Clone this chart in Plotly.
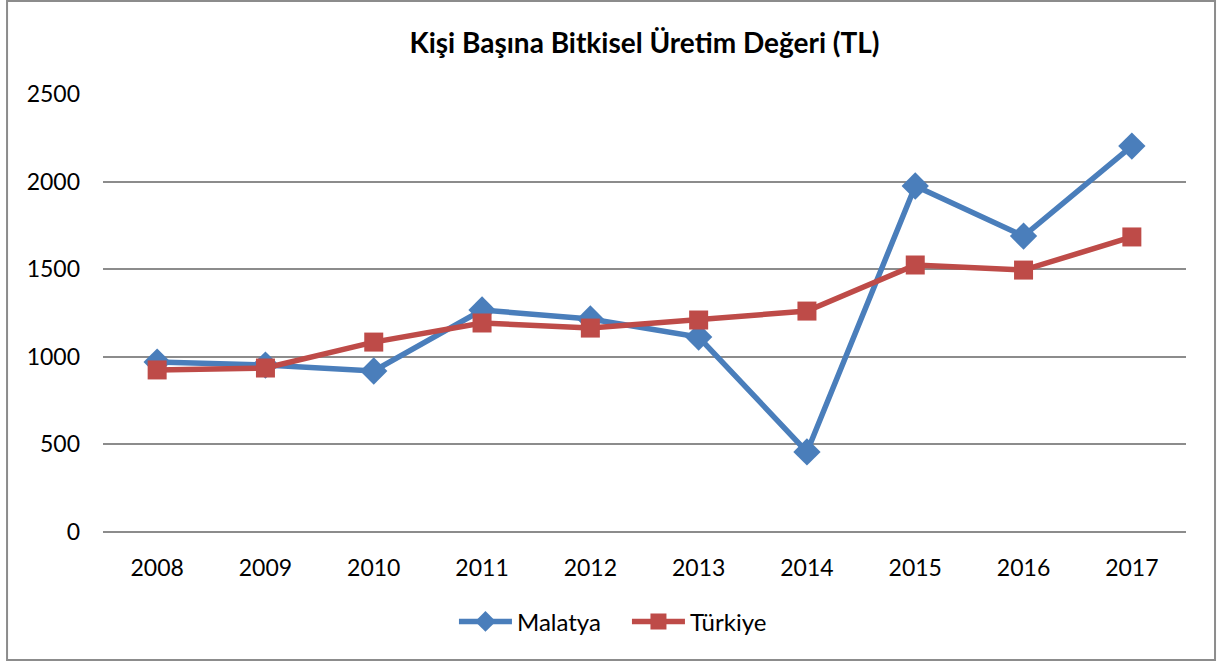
import plotly.graph_objects as go

years = ["2008", "2009", "2010", "2011", "2012", "2013", "2014", "2015", "2016", "2017"]
malatya = [970, 953, 919, 1267, 1216, 1113, 457, 1975, 1689, 2203]
turkiye = [925, 936, 1084, 1193, 1164, 1210, 1261, 1524, 1495, 1684]
y_ticks = [0, 500, 1000, 1500, 2000, 2500]

FONT = "Lato, Noto Sans, sans-serif"

fig = go.Figure()
fig.add_trace(go.Scatter(
    x=years, y=malatya, name="Malatya", mode="lines+markers",
    line=dict(color="#4A7EBB", width=5.5),
    marker=dict(symbol="diamond", size=21, color="#4A7EBB"),
))
fig.add_trace(go.Scatter(
    x=years, y=turkiye, name="Türkiye", mode="lines+markers",
    line=dict(color="#BE4B48", width=5.5),
    marker=dict(symbol="square", size=19, color="#BE4B48"),
))

fig.update_layout(
    width=1217, height=666,
    margin=dict(l=103, r=31, t=94, b=134),
    paper_bgcolor="white", plot_bgcolor="white",
    font=dict(family=FONT, size=23, color="black"),
    title=dict(text="<b>Kişi Başına Bitkisel Üretim Değeri (TL)</b>",
               x=0.5, xanchor="center", xref="paper", y=0.935, yanchor="middle",
               font=dict(family=FONT, size=28, color="black")),
    xaxis=dict(type="category", range=[-0.5, 9.5], showgrid=False, showline=False,
               ticks="", tickfont=dict(size=23), ticklabelstandoff=20),
    yaxis=dict(range=[0, 2500], tickvals=y_ticks, showgrid=True,
               gridcolor="#8C8C8C", gridwidth=1.5, zeroline=True, zerolinecolor="#8C8C8C",
               zerolinewidth=1.5, ticks="", tickfont=dict(size=23), ticklabelstandoff=22),
    legend=dict(orientation="h", x=0.4838, xanchor="center", y=-0.205, yanchor="middle",
                font=dict(size=24), itemwidth=53, entrywidth=105, entrywidthmode="pixels",
                bgcolor="rgba(0,0,0,0)"),
    showlegend=True,
)

fig.add_shape(type="rect", xref="paper", yref="paper",
              x0=-0.0886, x1=1.0268, y0=-0.2922, y1=1.2123,
              line=dict(color="#8C8C8C", width=2), fillcolor="rgba(0,0,0,0)", layer="below")

fig.write_html("out.html", config={"displayModeBar": False},
               post_script="document.body.style.margin='0';document.body.style.overflow='hidden';")
